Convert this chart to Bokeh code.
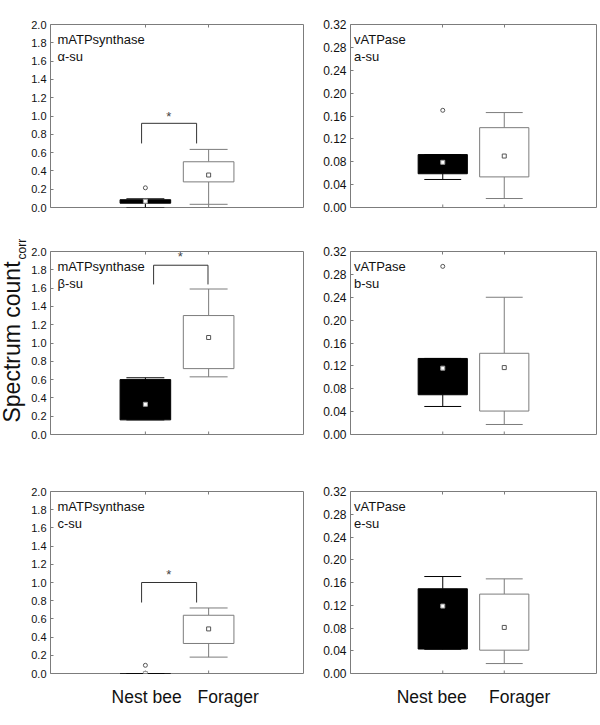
import math
from bokeh.plotting import figure
from bokeh.layouts import gridplot, row
from bokeh.models import Range1d, FixedTicker, LinearAxis, NumeralTickFormatter
from bokeh.core.properties import value
from bokeh.embed import file_html
from bokeh.resources import INLINE

FONT = "Liberation Sans"

# ---------------- data ----------------
categories = ["Nest bee", "Forager"]
cat_x = [1.5, 2.5]

# each group: [lower whisker, Q1, mean, Q3, upper whisker]
alpha_nest = [0.0, 0.047, 0.069, 0.085, 0.095]
alpha_forager = [0.035, 0.28, 0.355, 0.50, 0.635]
alpha_outliers = [0.215]

a_nest = [0.049, 0.059, 0.079, 0.0925, 0.0925]
a_forager = [0.0157, 0.0535, 0.090, 0.1396, 0.166]
a_outliers = [0.17]

beta_nest = [0.16, 0.16, 0.33, 0.60, 0.62]
beta_forager = [0.63, 0.72, 1.06, 1.30, 1.59]
beta_outliers = []

b_nest = [0.049, 0.0695, 0.116, 0.133, 0.133]
b_forager = [0.0175, 0.041, 0.117, 0.142, 0.24]
b_outliers = [0.294]

c_nest = [0.0, 0.0, 0.0, 0.0, 0.0]
c_forager = [0.18, 0.33, 0.49, 0.64, 0.72]
c_outliers = [0.09]

e_nest = [0.0426, 0.043, 0.1185, 0.149, 0.1705]
e_forager = [0.0175, 0.041, 0.081, 0.1396, 0.1664]
e_outliers = []

# significance brackets: [x left, x right, y bottom, y top, star x, star y]
alpha_sig = [1.44, 2.31, 0.70, 0.92, 1.87, 1.0]
beta_sig = [1.63, 2.49, 1.64, 1.85, 2.05, 1.94]
c_sig = [1.44, 2.31, 0.78, 1.0, 1.87, 1.09]

m_ticks = [0.0, 0.2, 0.4, 0.6, 0.8, 1.0, 1.2, 1.4, 1.6, 1.8, 2.0]
v_ticks = [0.0, 0.04, 0.08, 0.12, 0.16, 0.20, 0.24, 0.28, 0.32]

# where the category names sit under each column of panels
label_x_left = [1.52, 2.81]
label_x_right = [1.32, 2.75]

GRAY = "#7c7c7c"


def make_panel(title, sub, nest, forager, outliers, ymax, yticks, fmt, tick_fs,
               width, height, mb_left, mb_right, mb_top, mb_bottom, frame_w, frame_h,
               text_dx, show_labels, label_x, sig=None):
    p = figure(width=width, height=height, x_range=Range1d(0, 4), y_range=Range1d(0, ymax),
               output_backend="svg", toolbar_location=None,
               min_border_left=mb_left, min_border_right=mb_right,
               min_border_top=mb_top, min_border_bottom=mb_bottom)
    p.grid.visible = False
    p.outline_line_color = GRAY
    p.outline_line_width = 1
    p.background_fill_color = "white"
    p.border_fill_color = "white"

    # y axis
    ya = p.yaxis[0]
    ya.ticker = FixedTicker(ticks=yticks)
    ya.formatter = NumeralTickFormatter(format=fmt)
    ya.axis_line_color = None
    ya.major_tick_in = 3
    ya.major_tick_out = 0
    ya.major_tick_line_color = GRAY
    ya.minor_tick_line_color = None
    ya.major_label_text_font = FONT
    ya.major_label_text_font_size = tick_fs
    ya.major_label_text_color = "#111111"
    ya.major_label_standoff = 4

    # x axis below: carries only the category names
    xa = p.xaxis[0]
    xa.ticker = FixedTicker(ticks=label_x)
    if show_labels:
        xa.major_label_overrides = {label_x[0]: categories[0], label_x[1]: categories[1]}
    else:
        xa.major_label_overrides = {label_x[0]: "", label_x[1]: ""}
    xa.axis_line_color = None
    xa.major_tick_line_color = None
    xa.minor_tick_line_color = None
    xa.major_label_text_font = FONT
    xa.major_label_text_font_size = "17.5px"
    xa.major_label_text_color = "#111111"
    xa.major_label_standoff = 7

    # inward ticks at the group positions, top and bottom
    top = LinearAxis(ticker=FixedTicker(ticks=cat_x),
                     major_label_overrides={cat_x[0]: "", cat_x[1]: ""},
                     axis_line_color=None, major_tick_in=3, major_tick_out=0,
                     major_tick_line_color=GRAY, minor_tick_line_color=None,
                     major_label_standoff=0)
    p.add_layout(top, "above")
    tick_h = 3.0 / frame_h * ymax
    p.segment(x0=cat_x, x1=cat_x, y0=[0, 0], y1=[tick_h, tick_h], line_color=GRAY, line_width=1)

    groups = [nest, forager]
    box_fill = ["black", "white"]
    box_line = ["black", GRAY]
    cap = 0.3

    # whiskers
    p.segment(x0=cat_x, x1=cat_x, y0=[g[3] for g in groups], y1=[g[4] for g in groups],
              line_color=box_line, line_width=1)
    p.segment(x0=cat_x, x1=cat_x, y0=[g[1] for g in groups], y1=[g[0] for g in groups],
              line_color=box_line, line_width=1)
    # caps
    p.segment(x0=[x - cap for x in cat_x], x1=[x + cap for x in cat_x],
              y0=[g[4] for g in groups], y1=[g[4] for g in groups],
              line_color=box_line, line_width=1)
    p.segment(x0=[x - cap for x in cat_x], x1=[x + cap for x in cat_x],
              y0=[g[0] for g in groups], y1=[g[0] for g in groups],
              line_color=box_line, line_width=1)
    # boxes
    p.vbar(x=cat_x, width=0.8, bottom=[g[1] for g in groups], top=[g[3] for g in groups],
           fill_color=box_fill, line_color=box_line, line_width=1)
    # means
    p.scatter(x=cat_x, y=[g[2] for g in groups], marker="square", size=4,
              fill_color="white", line_color=["#9a9a9a", "#555555"], line_width=1)
    # outliers (nest bee group)
    if outliers:
        p.scatter(x=[cat_x[0]] * len(outliers), y=outliers, marker="circle", size=4,
                  fill_color="white", line_color="#555555", line_width=1)

    # significance bracket
    if sig is not None:
        xl, xr, yb, yt, sx, sy = sig
        p.line(x=[xl, xl, xr, xr], y=[yb, yt, yt, yb], line_color="#333333", line_width=1)
        p.text(x=[sx], y=[sy], text=["*"], text_font=value(FONT), text_font_size="13px",
               text_align="center", text_baseline="middle", text_color="#444444")

    # panel title (two lines)
    tx = text_dx / frame_w * 4
    p.text(x=[tx, tx], y=[ymax - 15.3 / frame_h * ymax, ymax - 31.5 / frame_h * ymax],
           text=[title, sub], text_font=value(FONT), text_font_size="13px",
           text_align="left", text_baseline="alphabetic", text_color="#111111")
    return p


# layout geometry (pixels)
TOTAL_H = 724
LAB_W = 28
LW, RW = 276, 296
L_left, L_right, L_fw = 20, 1, 255
R_left, R_right, R_fw = 46, 4, 246
rows = [(229, 24, 22, 183), (245, 22, 40, 183), (250, 17, 51, 182)]

specs = [
    [("mATPsynthase", "α-su", alpha_nest, alpha_forager, alpha_outliers, alpha_sig),
     ("vATPase", "a-su", a_nest, a_forager, a_outliers, None)],
    [("mATPsynthase", "β-su", beta_nest, beta_forager, beta_outliers, beta_sig),
     ("vATPase", "b-su", b_nest, b_forager, b_outliers, None)],
    [("mATPsynthase", "c-su", c_nest, c_forager, c_outliers, c_sig),
     ("vATPase", "e-su", e_nest, e_forager, e_outliers, None)],
]

grid = []
for ri, (h, mt, mb, fh) in enumerate(rows):
    show = ri == 2
    lt = specs[ri][0]
    rt = specs[ri][1]
    pl = make_panel(lt[0], lt[1], lt[2], lt[3], lt[4], 2.0, m_ticks, "0.0", "11px",
                    LW, h, L_left, L_right, mt, mb, L_fw, fh, 7, show, label_x_left, sig=lt[5])
    pr = make_panel(rt[0], rt[1], rt[2], rt[3], rt[4], 0.32, v_ticks, "0.00", "12px",
                    RW, h, R_left, R_right, mt, mb, R_fw, fh, 3.5, show, label_x_right, sig=rt[5])
    grid.append([pl, pr])

panels = gridplot(grid, toolbar_location=None)

# shared y-axis title in its own narrow strip (pixel coordinates, y up)
lab = figure(width=LAB_W, height=TOTAL_H, x_range=Range1d(0, LAB_W), y_range=Range1d(0, TOTAL_H),
             x_axis_type=None, y_axis_type=None, output_backend="svg", toolbar_location=None,
             min_border_left=0, min_border_right=0, min_border_top=0, min_border_bottom=0)
lab.outline_line_color = None
lab.grid.visible = False
lab.text(x=[11.5], y=[TOTAL_H - 341.5], text=["Spectrum count"], angle=math.pi / 2,
         text_font=value(FONT), text_font_size="23px", text_align="center",
         text_baseline="middle", text_color="#111111")
lab.text(x=[21.0], y=[TOTAL_H - 259], text=["corr"], angle=math.pi / 2,
         text_font=value(FONT), text_font_size="12px", text_align="left",
         text_baseline="middle", text_color="#111111")

layout = row(lab, panels)

open("out.html", "w").write(file_html(layout, INLINE))
